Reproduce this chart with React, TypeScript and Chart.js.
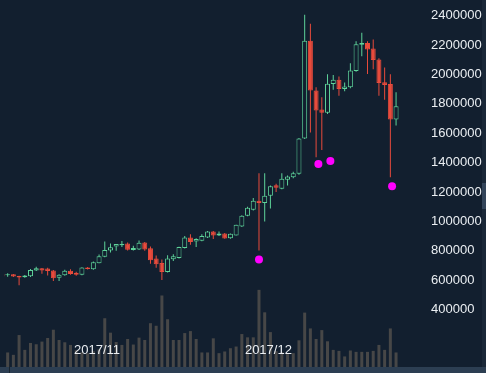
import { useEffect, useRef } from "react";
import { Chart, registerables } from "chart.js";
Chart.register(...registerables);

// Daily candles, 2017/10/15 .. 2017/12/23 (BTC/JPY)
const dates = [
  "10/15","10/16","10/17","10/18","10/19","10/20","10/21","10/22","10/23","10/24",
  "10/25","10/26","10/27","10/28","10/29","10/30","10/31","11/01","11/02","11/03",
  "11/04","11/05","11/06","11/07","11/08","11/09","11/10","11/11","11/12","11/13",
  "11/14","11/15","11/16","11/17","11/18","11/19","11/20","11/21","11/22","11/23",
  "11/24","11/25","11/26","11/27","11/28","11/29","11/30","12/01","12/02","12/03",
  "12/04","12/05","12/06","12/07","12/08","12/09","12/10","12/11","12/12","12/13",
  "12/14","12/15","12/16","12/17","12/18","12/19","12/20","12/21","12/22","12/23",
];
const opens = [
  643000, 634000, 641000, 628000, 620000, 627000, 666000, 681000, 679000, 667000,
  617000, 634000, 664000, 651000, 637000, 687000, 674000, 716000, 759000, 802000,
  829000, 838000, 849000, 806000, 809000, 856000, 817000, 748000, 718000, 656000,
  742000, 752000, 819000, 890000, 864000, 869000, 890000, 931000, 905000, 918000,
  885000, 905000, 965000, 1039000, 1079000, 1140000, 1126000, 1174000, 1246000, 1223000,
  1283000, 1301000, 1324000, 1564000, 2228000, 1891000, 1761000, 1739000, 1934000, 1963000,
  1900000, 1912000, 2023000, 2201000, 2214000, 2176000, 2102000, 1947000, 1934000, 1694000,
];
const highs = [
  648000, 647000, 643000, 630000, 636000, 677000, 691000, 684000, 685000, 670000,
  640000, 671000, 674000, 657000, 688000, 690000, 728000, 775000, 864000, 849000,
  847000, 866000, 857000, 835000, 871000, 860000, 830000, 768000, 741000, 770000,
  777000, 828000, 900000, 913000, 886000, 913000, 935000, 935000, 931000, 922000,
  918000, 978000, 1042000, 1100000, 1160000, 1328000, 1328000, 1245000, 1257000, 1328000,
  1313000, 1338000, 1568000, 2405000, 2344000, 1912000, 1844000, 2001000, 1996000, 1986000,
  1945000, 2075000, 2225000, 2284000, 2225000, 2237000, 2110000, 2046000, 2001000, 1878000,
];
const lows = [
  622000, 624000, 622000, 566000, 617000, 622000, 662000, 644000, 633000, 595000,
  595000, 630000, 637000, 631000, 634000, 673000, 671000, 715000, 756000, 788000,
  801000, 826000, 802000, 802000, 805000, 800000, 712000, 685000, 602000, 652000,
  730000, 748000, 815000, 842000, 826000, 865000, 888000, 880000, 900000, 882000,
  882000, 904000, 962000, 1035000, 1075000, 802000, 999000, 1088000, 1200000, 1218000,
  1245000, 1294000, 1318000, 1560000, 1604000, 1436000, 1485000, 1730000, 1895000, 1855000,
  1885000, 1905000, 2018000, 2124000, 2003000, 2035000, 1855000, 1828000, 1301000, 1653000,
];
const closes = [
  626000, 641000, 625000, 618000, 633000, 669000, 681000, 667000, 662000, 613000,
  637000, 664000, 642000, 638000, 686000, 676000, 723000, 763000, 806000, 824000,
  846000, 846000, 808000, 819000, 855000, 809000, 736000, 709000, 656000, 748000,
  763000, 826000, 891000, 860000, 880000, 900000, 931000, 905000, 918000, 884000,
  916000, 977000, 1039000, 1093000, 1140000, 1126000, 1174000, 1239000, 1229000, 1290000,
  1306000, 1328000, 1564000, 2228000, 1891000, 1754000, 1739000, 1936000, 1963000, 1900000,
  1918000, 2026000, 2205000, 2214000, 2169000, 2097000, 1941000, 1927000, 1694000, 1784000,
];
const volumes = [
  20000, 14700, 12300, 32300, 17300, 24300, 23000, 25700, 29300, 37700,
  27300, 25000, 22300, 17000, 15000, 14000, 16000, 18000, 49300, 34700,
  25300, 22300, 28300, 22700, 29700, 27300, 44300, 41700, 72300, 48300,
  27300, 27300, 34300, 36300, 28300, 14700, 14700, 29000, 14000, 15700,
  19000, 20700, 33300, 30000, 30000, 78000, 55300, 35300, 16000, 15000,
  13000, 14000, 27000, 55000, 39000, 28300, 37300, 26000, 17300, 16300,
  10700, 16700, 15300, 15300, 15300, 16300, 22300, 17300, 39000, 14700,
];
// signal markers (x = candle position, y = price)
const signalX = [45, 55.4, 57.5, 68.3];
const signalY = [741000, 1391000, 1411000, 1239000];

const priceTicks = [400000, 600000, 800000, 1000000, 1200000, 1400000, 1600000, 1800000, 2000000, 2200000, 2400000];
const monthLabels = ["2017/11", "2017/12"];
const monthIndex = [17, 47];

const BG = "#121f2f";
const UP = "#5ed39a";
const DOWN = "#e84b3c";
const VOL = "#474747";
const TEXT = "#eaeef2";
const FONT = 'Arial, "Liberation Sans", sans-serif';

const monthLabelPlugin = {
  id: "monthLabels",
  afterDatasetsDraw(chart: any) {
    const { ctx, chartArea, scales } = chart;
    const x = scales.x;
    ctx.save();
    ctx.font = `13px ${FONT}`;
    ctx.fillStyle = TEXT;
    ctx.textAlign = "center";
    ctx.textBaseline = "middle";
    monthIndex.forEach((m, i) => {
      ctx.fillText(monthLabels[i], x.getPixelForValue(m) - 2, chartArea.bottom - 17);
    });
    ctx.restore();
  },
};

export default function App() {
  const ref = useRef<HTMLCanvasElement>(null);
  useEffect(() => {
    if (!ref.current) return;
    const idx = opens.map((_, i) => i);
    const up = idx.map((i) => closes[i] >= opens[i]);
    const chart = new Chart(ref.current, {
      type: "bar",
      data: {
        labels: dates,
        datasets: [
          {
            type: "scatter",
            label: "signal",
            data: signalX.map((x, i) => ({ x, y: signalY[i] })),
            backgroundColor: "#ff00ff",
            borderWidth: 0,
            pointRadius: 4,
            pointHoverRadius: 4,
            yAxisID: "y",
            order: 0,
          } as any,
          {
            label: "body",
            data: idx.map((i) => ({ x: i, y: [Math.min(opens[i], closes[i]), Math.max(opens[i], closes[i])] })),
            backgroundColor: idx.map((i) => (up[i] ? BG : DOWN)),
            borderColor: idx.map((i) => (up[i] ? UP : DOWN)),
            borderWidth: 1,
            borderSkipped: false,
            barThickness: 5,
            inflateAmount: 0,
            grouped: false,
            yAxisID: "y",
            order: 1,
          } as any,
          {
            label: "wick",
            data: idx.map((i) => ({ x: i, y: [lows[i], highs[i]] })),
            backgroundColor: idx.map((i) => (up[i] ? UP : DOWN)),
            borderWidth: 0,
            barThickness: 1,
            inflateAmount: 0,
            grouped: false,
            yAxisID: "y",
            order: 2,
          } as any,
          {
            label: "volume",
            data: idx.map((i) => ({ x: i, y: volumes[i] })),
            backgroundColor: VOL,
            borderWidth: 0,
            barThickness: 3,
            inflateAmount: 0,
            grouped: false,
            yAxisID: "yv",
            order: 3,
          } as any,
        ],
      },
      options: {
        animation: false,
        responsive: false,
        events: [],
        layout: { padding: { left: 0, right: 0, top: 0, bottom: 6 } },
        plugins: { legend: { display: false }, tooltip: { enabled: false } },
        scales: {
          x: { type: "linear", min: 0.3583, max: 74.066, offset: false, display: false },
          y: {
            type: "linear",
            position: "right",
            min: 9900,
            max: 2478700,
            grid: { display: false, drawTicks: false },
            border: { display: false },
            ticks: {
              color: TEXT,
              font: { family: FONT, size: 13 },
              padding: 6,
              callback: (v: any) => String(v),
            },
            afterBuildTicks: (s: any) => {
              s.ticks = priceTicks.map((v) => ({ value: v }));
            },
            afterFit: (s: any) => {
              s.width = 61;
              s.paddingTop = 0;
              s.paddingBottom = 0;
            },
          },
          yv: { type: "linear", display: false, min: 0, max: 367000 },
        },
      } as any,
      plugins: [monthLabelPlugin],
    });
    return () => chart.destroy();
  }, []);

  return (
    <div style={{ position: "fixed", left: 0, top: 0, width: 486, height: 373, background: BG, overflow: "hidden" }}>
      <div style={{ position: "absolute", left: 0, top: 367, width: 486, height: 6, background: "#2c3e52" }} />
      <div style={{ position: "absolute", left: 9, top: 367, width: 1, height: 6, background: "#18242f" }} />
      <div style={{ position: "absolute", left: 482, top: 0, width: 4, height: 367, background: "#1a2838" }} />
      <div style={{ position: "absolute", left: 482, top: 183, width: 4, height: 26, background: "#33455a" }} />
      <canvas ref={ref} width={486} height={373} style={{ position: "absolute", left: 0, top: 0, display: "block" }} />
    </div>
  );
}
